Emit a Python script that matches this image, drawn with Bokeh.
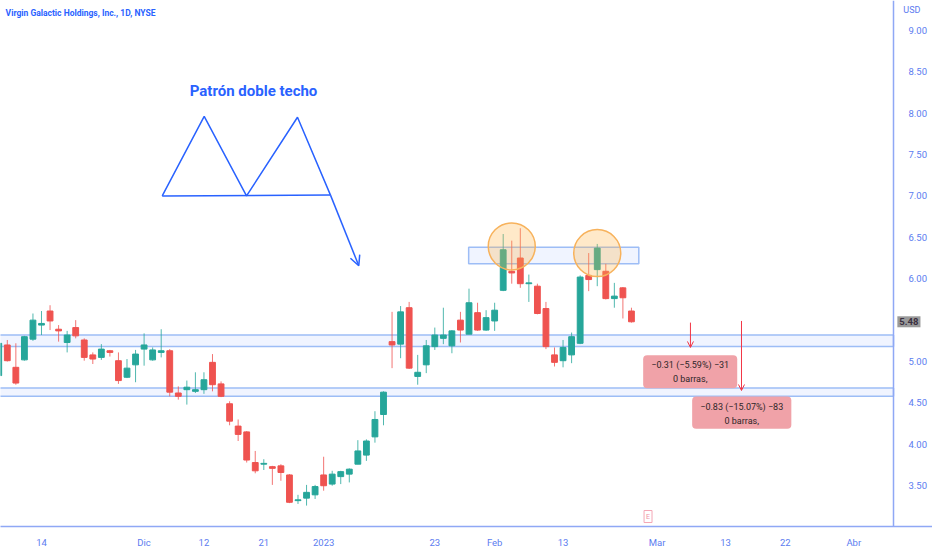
import pandas as pd
from bokeh.plotting import figure
from bokeh.models import (Range1d, FixedTicker, PrintfTickFormatter, Label, Arrow, OpenHead,
                          ColumnDataSource, LinearAxis)
from bokeh.core.properties import value
from bokeh.embed import file_html
from bokeh.resources import INLINE

# ---------------- data ----------------
dates = [
    "2022-11-07", "2022-11-08", "2022-11-09", "2022-11-10", "2022-11-11",
    "2022-11-14", "2022-11-15", "2022-11-16", "2022-11-17", "2022-11-18",
    "2022-11-21", "2022-11-22", "2022-11-23", "2022-11-25", "2022-11-28",
    "2022-11-29", "2022-11-30", "2022-12-01", "2022-12-02", "2022-12-05",
    "2022-12-06", "2022-12-07", "2022-12-08", "2022-12-09", "2022-12-12",
    "2022-12-13", "2022-12-14", "2022-12-15", "2022-12-16", "2022-12-19",
    "2022-12-20", "2022-12-21", "2022-12-22", "2022-12-23", "2022-12-27",
    "2022-12-28", "2022-12-29", "2022-12-30", "2023-01-03", "2023-01-04",
    "2023-01-05", "2023-01-06", "2023-01-09", "2023-01-10", "2023-01-11",
    "2023-01-12", "2023-01-13", "2023-01-17", "2023-01-18", "2023-01-19",
    "2023-01-20", "2023-01-23", "2023-01-24", "2023-01-25", "2023-01-26",
    "2023-01-27", "2023-01-30", "2023-01-31", "2023-02-01", "2023-02-02",
    "2023-02-03", "2023-02-06", "2023-02-07", "2023-02-08", "2023-02-09",
    "2023-02-10", "2023-02-13", "2023-02-14", "2023-02-15", "2023-02-16",
    "2023-02-17", "2023-02-21", "2023-02-22", "2023-02-23", "2023-02-24",
]
open_ = [
    4.83, 5.20, 4.93, 5.02, 5.27, 5.44, 5.61, 5.39, 5.23, 5.41,
    5.26, 5.08, 5.05, 5.13, 5.01, 4.81, 4.96, 5.15, 5.02, 5.11,
    5.13, 4.62, 4.66, 4.64, 4.66, 4.99, 4.73, 4.49, 4.22, 4.15,
    3.78, 3.76, 3.73, 3.74, 3.63, 3.32, 3.35, 3.39, 3.63, 3.52,
    3.61, 3.64, 3.76, 3.87, 4.09, 4.36, 5.24, 5.21, 5.65, 4.82,
    4.96, 5.18, 5.28, 5.19, 5.50, 5.33, 5.59, 5.38, 5.49, 5.86,
    6.09, 6.25, 5.94, 5.91, 5.64, 5.08, 5.01, 5.08, 5.22, 6.04,
    6.11, 6.09, 5.76, 5.89, 5.61,
]
high = [
    5.25, 5.26, 5.22, 5.31, 5.58, 5.61, 5.68, 5.44, 5.37, 5.50,
    5.28, 5.11, 5.21, 5.14, 5.11, 5.03, 5.14, 5.34, 5.17, 5.39,
    5.15, 4.70, 4.77, 4.87, 4.87, 5.09, 4.76, 4.52, 4.30, 4.16,
    3.92, 3.82, 3.74, 3.76, 3.64, 3.39, 3.51, 3.51, 3.85, 3.68,
    3.68, 3.71, 4.05, 4.06, 4.40, 4.64, 5.60, 5.67, 5.72, 5.08,
    5.26, 5.41, 5.65, 5.38, 5.60, 5.88, 5.71, 5.62, 5.71, 6.54,
    6.46, 6.61, 6.05, 5.94, 5.72, 5.17, 5.26, 5.35, 6.04, 6.31,
    6.42, 6.18, 5.95, 5.90, 5.65,
]
low = [
    4.80, 5.00, 4.72, 5.01, 5.25, 5.32, 5.38, 5.24, 5.11, 5.28,
    5.01, 4.97, 5.02, 5.06, 4.73, 4.80, 4.75, 4.95, 5.01, 5.05,
    4.58, 4.54, 4.48, 4.62, 4.61, 4.64, 4.57, 4.23, 4.04, 3.78,
    3.65, 3.69, 3.51, 3.56, 3.29, 3.28, 3.26, 3.34, 3.44, 3.50,
    3.52, 3.54, 3.76, 3.80, 4.02, 4.23, 4.92, 5.04, 4.91, 4.72,
    4.86, 5.14, 5.21, 5.10, 5.23, 5.33, 5.37, 5.37, 5.37, 5.85,
    5.94, 5.89, 5.72, 5.57, 5.15, 4.94, 4.93, 4.98, 5.21, 5.85,
    5.91, 5.75, 5.65, 5.52, 5.47,
]
close = [
    5.22, 5.01, 4.74, 5.30, 5.50, 5.46, 5.49, 5.37, 5.32, 5.31,
    5.05, 5.03, 5.15, 5.11, 4.77, 4.92, 5.09, 5.20, 5.14, 5.13,
    4.63, 4.58, 4.69, 4.66, 4.78, 4.72, 4.58, 4.28, 4.12, 3.81,
    3.68, 3.77, 3.71, 3.66, 3.30, 3.33, 3.42, 3.49, 3.50, 3.64,
    3.67, 3.70, 3.92, 4.04, 4.30, 4.63, 5.20, 5.60, 4.92, 4.87,
    5.19, 5.32, 5.32, 5.37, 5.38, 5.71, 5.38, 5.53, 5.62, 6.35,
    6.07, 5.94, 5.95, 5.58, 5.18, 4.99, 5.17, 5.30, 6.02, 5.99,
    6.37, 5.76, 5.79, 5.77, 5.48,
]
holidays = ["2022-11-24", "2022-12-26", "2023-01-02", "2023-01-16", "2023-02-20", "2023-04-07"]
anchor_date = "2022-11-14"

x_tick_dates = ["2022-11-14", "2022-12-01", "2022-12-12", "2022-12-21", "2023-01-03", "2023-01-23",
                "2023-02-01", "2023-02-13", "2023-03-01", "2023-03-13", "2023-03-22", "2023-04-03"]
x_tick_labels = ["14", "Dic", "12", "21", "2023", "23", "Feb", "13", "Mar", "13", "22", "Abr"]
y_ticks = [3.5, 4.0, 4.5, 5.0, 6.0, 6.5, 7.0, 7.5, 8.0, 8.5, 9.0]
last_price = 5.48

support_bands_bottom = [5.18, 4.58]
support_bands_top = [5.32, 4.68]
resistance_band = (6.18, 6.38)
measure_texts = ["\u22120.31 (\u22125.59%) \u221231", "\u22120.83 (\u221215.07%) \u221283"]
measure_bars = ["0 barras,", "0 barras,"]
measure_targets = [5.17, 4.65]

title_text = "Virgin Galactic Holdings, Inc., 1D, NYSE"
pattern_text = "Patrón doble techo"
currency = "USD"

# ---------------- calendar (trading-day index) ----------------
days = [d.strftime("%Y-%m-%d") for d in pd.bdate_range("2022-11-07", "2023-04-14")
        if d.strftime("%Y-%m-%d") not in holidays]
base = days.index(anchor_date)
day_pos = {d: i - base for i, d in enumerate(days)}

xs = [day_pos[d] for d in dates]
up = [c >= o for o, c in zip(open_, close)]
GREEN, RED = "#26a69a", "#ef5350"
colors = [GREEN if u else RED for u in up]
src = ColumnDataSource(dict(
    x=xs, high=high, low=low,
    top=[max(o, c) for o, c in zip(open_, close)],
    bottom=[min(o, c) for o, c in zip(open_, close)],
    color=colors,
))

BLUE = "#2962ff"
AXIS_TXT = "#5b7cf0"
AXIS_LINE = "#8fa8f5"

X0, X1 = -4.795, 104.21          # whole canvas width is frame
AXIS_X = 99.65                    # where the price scale sits
p = figure(width=932, height=550,
           x_range=Range1d(X0, X1), y_range=Range1d(3.0075, 9.3603),
           output_backend="svg", toolbar_location=None, y_axis_location=None,
           min_border_left=0, min_border_top=0, min_border_right=0, min_border_bottom=21)
p.xgrid.visible = False
p.ygrid.visible = False
p.outline_line_color = None
p.background_fill_color = "white"
p.border_fill_color = "white"

yaxis = LinearAxis(fixed_location=AXIS_X, ticker=FixedTicker(ticks=y_ticks),
                   formatter=PrintfTickFormatter(format="%.2f"))
p.add_layout(yaxis, "right")

x_tick_pos = [day_pos[d] for d in x_tick_dates]
p.xaxis.ticker = FixedTicker(ticks=x_tick_pos)
p.xaxis.major_label_overrides = {pos: lab for pos, lab in zip(x_tick_pos, x_tick_labels)}
for ax in (p.xaxis[0], yaxis):
    ax.major_tick_line_color = None
    ax.minor_tick_line_color = None
    ax.axis_line_color = AXIS_LINE
    ax.axis_line_width = 1.5
    ax.major_label_text_color = AXIS_TXT
    ax.major_label_text_font = "Roboto"
    ax.major_label_text_font_size = "9.5px"
yaxis.major_label_standoff = 9
p.xaxis.major_label_standoff = 4

# support / resistance bands
for b, t in zip(support_bands_bottom, support_bands_top):
    p.quad(left=X0 - 5, right=AXIS_X, bottom=b, top=t, fill_color=BLUE, fill_alpha=0.07,
           line_color="#9dbdf6", line_width=1.5)
p.quad(left=day_pos["2023-01-27"] - 0.04, right=day_pos["2023-02-24"] + 0.86,
       bottom=resistance_band[0], top=resistance_band[1],
       fill_color=BLUE, fill_alpha=0.07, line_color="#9dbdf6", line_width=1.5)

# candles
p.segment(x0="x", y0="high", x1="x", y1="low", color="color", line_width=1, line_alpha=0.8, source=src)
p.vbar(x="x", width=0.68, top="top", bottom="bottom", fill_color="color", line_color="color",
       line_width=1, source=src)

# double-top circles
p.scatter(x=[day_pos["2023-02-03"], day_pos["2023-02-17"]], y=[6.39, 6.31], size=47, marker="circle",
          fill_color="#ffb74d", fill_alpha=0.3, line_color="#f7b25c", line_width=1.5)

# double-top drawing
m_x = [14.12, 19.03, 23.98, 29.94, 33.80]
m_y = [7.00, 7.96, 7.00, 7.95, 7.01]
p.line(m_x, m_y, line_color=BLUE, line_width=1.5)
p.line([14.12, 33.80], [7.00, 7.01], line_color=BLUE, line_width=1.5)
p.add_layout(Arrow(end=OpenHead(size=10, line_color=BLUE, line_width=1.5),
                   x_start=33.80, y_start=7.01, x_end=37.11, y_end=6.157,
                   line_color=BLUE, line_width=1.5))
p.text(x=[24.8], y=[8.273], text=[pattern_text], text_font=value("Roboto"), text_font_style="bold",
       text_font_size="15px", text_color=BLUE, text_align="center", text_baseline="middle")

# title
p.text(x=[-4.2], y=[9.215], text=[title_text], text_font=value("Roboto"), text_font_style="bold",
       text_font_size="8.5px", text_color=BLUE, text_align="left", text_baseline="middle")

# measurement tools
arrow_x = [75.9, 81.87]
arrow_y0 = [5.47, 5.49]
for ax_, ay0, ay1 in zip(arrow_x, arrow_y0, measure_targets):
    p.add_layout(Arrow(end=OpenHead(size=6, line_color="#f23645", line_width=1),
                       x_start=ax_, y_start=ay0, x_end=ax_, y_end=ay1,
                       line_color="#f23645", line_width=1))
box_l = [70.37, 76.1]
box_r = [81.37, 87.7]
box_t = [5.077, 4.577]
box_b = [4.677, 4.188]
p.quad(left=box_l, right=box_r, top=box_t, bottom=box_b, fill_color="#f0a2a8", line_color=None,
       border_radius=4)
txt_x = [(l + r) / 2 for l, r in zip(box_l, box_r)]
p.text(x=txt_x, y=[4.957, 4.449], text=measure_texts, text_font=value("Roboto"), text_font_size="9px",
       text_color="#2e2628", text_align="center", text_baseline="middle")
p.text(x=txt_x, y=[4.788, 4.277], text=measure_bars, text_font=value("Roboto"), text_font_size="9px",
       text_color="#2e2628", text_align="center", text_baseline="middle")

# earnings marker
p.add_layout(Label(x=70.94, y=3.128, text="E", text_font="Roboto", text_font_size="7px",
                   text_color="#ef8fa5", text_align="center", text_baseline="middle",
                   border_line_color="#f4a6b5", border_line_width=1, padding=2,
                   background_fill_color="white"))

# price-scale label + currency
p.add_layout(Label(x=AXIS_X + 0.45, y=last_price, text=f"{last_price:.2f}", text_font="Roboto",
                   text_font_size="9.5px", text_font_style="bold", text_color="#3a3040",
                   text_align="left", text_baseline="middle", background_fill_color="#9a9a9a",
                   padding=2))
p.add_layout(Label(x=AXIS_X + 1.15, y=9.245, text=currency, text_font="Roboto", text_font_size="9px",
                   text_color=AXIS_TXT, text_align="left", text_baseline="middle"))

open("out.html", "w").write(file_html(p, INLINE))
